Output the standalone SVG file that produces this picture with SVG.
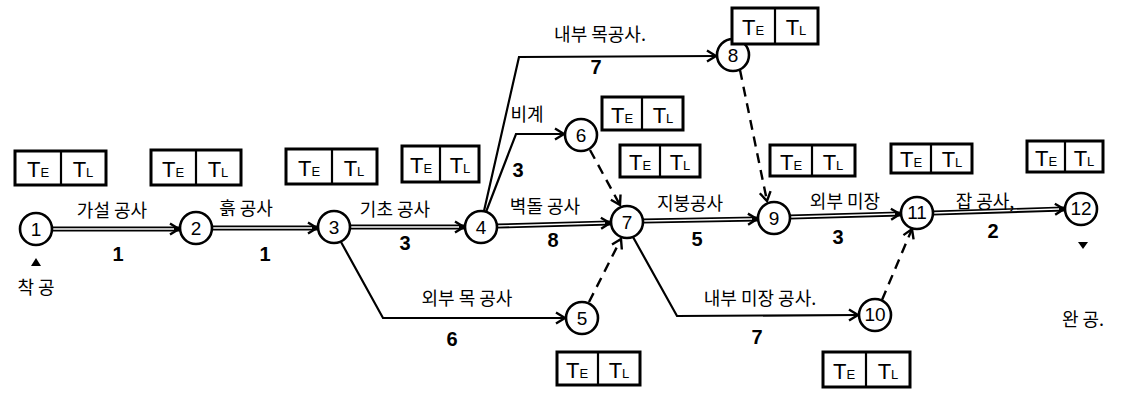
<svg xmlns="http://www.w3.org/2000/svg" width="1124" height="393" viewBox="0 0 1124 393">
  <style>
    .node circle { fill: #fff; stroke: #000; stroke-width: 2.6; }
    .node text { font-family: "Liberation Sans", sans-serif; font-size: 19px; text-anchor: middle; fill: #000; }
    .box rect { fill: #fff; stroke: #000; stroke-width: 3; }
    .box line { stroke: #000; stroke-width: 2.2; }
    .box text { font-family: "Liberation Sans", sans-serif; font-size: 22px; text-anchor: middle; fill: #000; }
    .sub { font-size: 13px; }
    .dbl-o { fill: none; stroke: #000; stroke-width: 5; }
    .dbl-i { fill: none; stroke: #fff; stroke-width: 1.4; }
    .single { fill: none; stroke: #000; stroke-width: 2.2; }
    .dash { fill: none; stroke: #000; stroke-width: 2.4; stroke-dasharray: 10 7; }
    .lbl { font-family: "Noto Sans CJK KR", sans-serif; font-size: 18px; fill: #000; text-anchor: middle; }
    .dur { font-family: "Liberation Sans", sans-serif; font-size: 20px; font-weight: bold; fill: #000; text-anchor: middle; }
  </style>
  <defs>
    <marker id="arr" markerWidth="14" markerHeight="14" refX="11" refY="7" orient="auto" markerUnits="userSpaceOnUse">
      <path d="M2,1.5 L11,7 L2,12.5" fill="none" stroke="#000" stroke-width="2.4"/>
    </marker>
  </defs>

  <!-- connectors -->
  <g id="connectors">
    <!-- double lines -->
    <path class="dbl-o" d="M52,229 L179,229" marker-end="url(#arr)"/>
    <path class="dbl-i" d="M52,229 L174,229"/>
    <path class="dbl-o" d="M212,228 L317,228" marker-end="url(#arr)"/>
    <path class="dbl-i" d="M212,228 L312,228"/>
    <path class="dbl-o" d="M350,227 L464,227" marker-end="url(#arr)"/>
    <path class="dbl-i" d="M350,227 L459,227"/>
    <path class="dbl-o" d="M497,226 L610,223" marker-end="url(#arr)"/>
    <path class="dbl-i" d="M497,226 L605,223"/>
    <path class="dbl-o" d="M643,221 L757,219" marker-end="url(#arr)"/>
    <path class="dbl-i" d="M643,221 L752,219"/>
    <path class="dbl-o" d="M790,217 L900,214" marker-end="url(#arr)"/>
    <path class="dbl-i" d="M790,217 L895,214"/>
    <path class="dbl-o" d="M933,213 L1064,209" marker-end="url(#arr)"/>
    <path class="dbl-i" d="M933,213 L1059,209"/>

    <!-- single-line activities -->
    <path class="single" d="M341,242 L383,318 L565,318" marker-end="url(#arr)"/>
    <path class="single" d="M484,211 L519,57 L716,56" marker-end="url(#arr)"/>
    <path class="single" d="M486,212 L516,134 L564,134" marker-end="url(#arr)"/>
    <path class="single" d="M633,237 L677,316 L858,315" marker-end="url(#arr)"/>

    <!-- dummy activities -->
    <path class="dash" d="M590,150 L620,205" marker-end="url(#arr)"/>
    <path class="dash" d="M589,302 L621,239" marker-end="url(#arr)"/>
    <path class="dash" d="M740,70 L767,201" marker-end="url(#arr)"/>
    <path class="dash" d="M882,300 L912,229" marker-end="url(#arr)"/>
  </g>

  <!-- activity labels -->
  <g id="labels">
    <text class="lbl" x="112" y="217">가설 공사</text>
    <text class="lbl" x="246" y="215">흙 공사</text>
    <text class="lbl" x="395" y="216">기초 공사</text>
    <text class="lbl" x="545" y="213">벽돌 공사</text>
    <text class="lbl" x="690" y="210">지붕공사</text>
    <text class="lbl" x="845" y="208">외부 미장</text>
    <text class="lbl" x="985" y="208">잡 공사,</text>
    <text class="lbl" x="600" y="41">내부  목공사.</text>
    <text class="lbl" x="527" y="121">비계</text>
    <text class="lbl" x="467" y="305">외부 목 공사</text>
    <text class="lbl" x="760" y="305">내부 미장 공사.</text>

    <text class="dur" x="118" y="261">1</text>
    <text class="dur" x="265" y="261">1</text>
    <text class="dur" x="405" y="250">3</text>
    <text class="dur" x="553" y="247">8</text>
    <text class="dur" x="697" y="246">5</text>
    <text class="dur" x="838" y="244">3</text>
    <text class="dur" x="993" y="238">2</text>
    <text class="dur" x="596" y="74">7</text>
    <text class="dur" x="518" y="177">3</text>
    <text class="dur" x="452" y="346">6</text>
    <text class="dur" x="757" y="344">7</text>

    <path d="M31,266 L41,266 L36,258 Z" fill="#000"/>
    <text class="lbl" x="36" y="294" font-size="20">착 공</text>
    <path d="M1078,242 L1088,242 L1083,249 Z" fill="#000"/>
    <text class="lbl" x="1083" y="326" font-size="20">완 공.</text>
  </g>

  <!-- events -->
  <g id="n1" class="node"><circle cx="36" cy="229" r="16"/><text x="36" y="236">1</text></g>
  <g id="n2" class="node"><circle cx="196" cy="228" r="16"/><text x="196" y="235">2</text></g>
  <g id="n3" class="node"><circle cx="334" cy="227" r="16"/><text x="334" y="234">3</text></g>
  <g id="n4" class="node"><circle cx="481" cy="227" r="16"/><text x="481" y="234">4</text></g>
  <g id="n5" class="node"><circle cx="582" cy="318" r="16"/><text x="582" y="325">5</text></g>
  <g id="n6" class="node"><circle cx="581" cy="135" r="16"/><text x="581" y="142">6</text></g>
  <g id="n7" class="node"><circle cx="627" cy="222" r="16"/><text x="627" y="229">7</text></g>
  <g id="n8" class="node"><circle cx="733" cy="55" r="16"/><text x="733" y="62">8</text></g>
  <g id="n9" class="node"><circle cx="774" cy="218" r="16"/><text x="774" y="225">9</text></g>
  <g id="n10" class="node"><circle cx="875" cy="315" r="16"/><text x="875" y="321" font-size="16">10</text></g>
  <g id="n11" class="node"><circle cx="917" cy="213" r="16"/><text x="917" y="219" font-size="16">11</text></g>
  <g id="n12" class="node"><circle cx="1081" cy="209" r="16"/><text x="1081" y="215" font-size="16">12</text></g>

  <!-- event time boxes -->
  <g id="t1" class="box" transform="translate(15,151)"><rect width="91" height="34"/><line x1="46" y1="0" x2="46" y2="34"/><text x="23" y="26">T<tspan class="sub">E</tspan></text><text x="68" y="26">T<tspan class="sub">L</tspan></text></g>
  <g id="t2" class="box" transform="translate(151,150)"><rect width="90" height="35"/><line x1="45" y1="0" x2="45" y2="35"/><text x="22" y="27">T<tspan class="sub">E</tspan></text><text x="67" y="27">T<tspan class="sub">L</tspan></text></g>
  <g id="t3" class="box" transform="translate(286,149)"><rect width="91" height="35"/><line x1="46" y1="0" x2="46" y2="35"/><text x="23" y="27">T<tspan class="sub">E</tspan></text><text x="68" y="27">T<tspan class="sub">L</tspan></text></g>
  <g id="t4" class="box" transform="translate(402,146)"><rect width="77" height="36"/><line x1="38" y1="0" x2="38" y2="36"/><text x="19" y="27">T<tspan class="sub">E</tspan></text><text x="58" y="27">T<tspan class="sub">L</tspan></text></g>
  <g id="t6" class="box" transform="translate(602,97)"><rect width="81" height="33"/><line x1="40" y1="0" x2="40" y2="33"/><text x="20" y="26">T<tspan class="sub">E</tspan></text><text x="61" y="26">T<tspan class="sub">L</tspan></text></g>
  <g id="t7" class="box" transform="translate(620,145)"><rect width="80" height="32"/><line x1="40" y1="0" x2="40" y2="32"/><text x="20" y="25">T<tspan class="sub">E</tspan></text><text x="60" y="25">T<tspan class="sub">L</tspan></text></g>
  <g id="t8" class="box" transform="translate(732,8)"><rect width="86" height="36"/><line x1="43" y1="0" x2="43" y2="36"/><text x="21" y="27">T<tspan class="sub">E</tspan></text><text x="64" y="27">T<tspan class="sub">L</tspan></text></g>
  <g id="t9" class="box" transform="translate(770,145)"><rect width="85" height="31"/><line x1="42" y1="0" x2="42" y2="31"/><text x="21" y="25">T<tspan class="sub">E</tspan></text><text x="63" y="25">T<tspan class="sub">L</tspan></text></g>
  <g id="t11" class="box" transform="translate(891,144)"><rect width="81" height="29"/><line x1="40" y1="0" x2="40" y2="29"/><text x="20" y="23">T<tspan class="sub">E</tspan></text><text x="61" y="23">T<tspan class="sub">L</tspan></text></g>
  <g id="t12" class="box" transform="translate(1027,141)"><rect width="76" height="31"/><line x1="38" y1="0" x2="38" y2="31"/><text x="19" y="25">T<tspan class="sub">E</tspan></text><text x="57" y="25">T<tspan class="sub">L</tspan></text></g>
  <g id="t5" class="box" transform="translate(557,352)"><rect width="83" height="33"/><line x1="41" y1="0" x2="41" y2="33"/><text x="20" y="26">T<tspan class="sub">E</tspan></text><text x="62" y="26">T<tspan class="sub">L</tspan></text></g>
  <g id="t10" class="box" transform="translate(823,352)"><rect width="87" height="35"/><line x1="43" y1="0" x2="43" y2="35"/><text x="21" y="27">T<tspan class="sub">E</tspan></text><text x="65" y="27">T<tspan class="sub">L</tspan></text></g>
</svg>
